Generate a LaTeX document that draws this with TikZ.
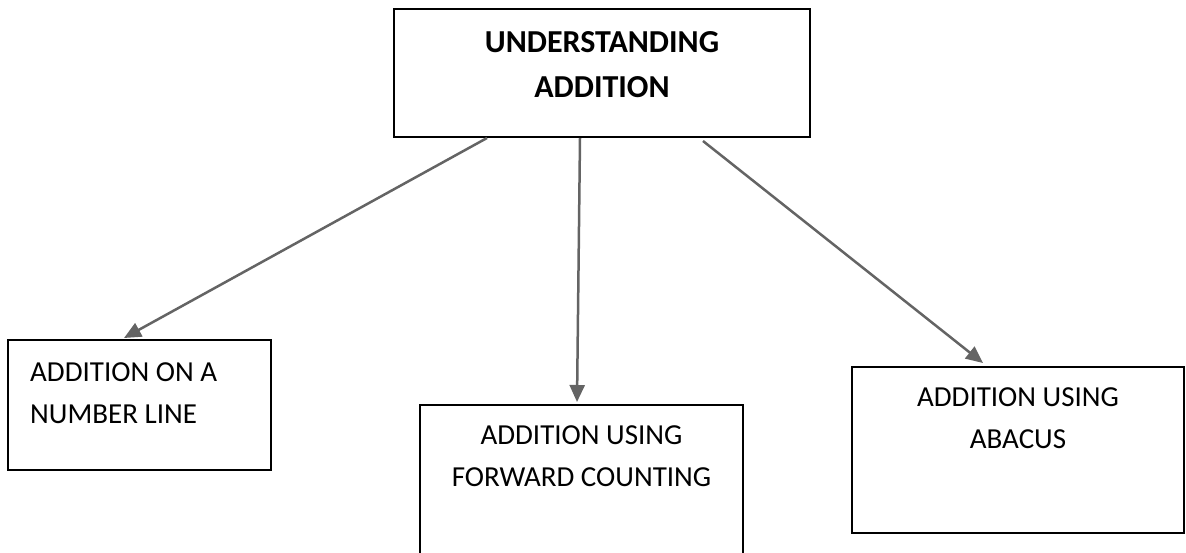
\documentclass[tikz,border=0pt]{standalone}
\usepackage{fontspec}
\setmainfont{Carlito}
\usetikzlibrary{arrows.meta}
\definecolor{arrowgray}{RGB}{100,100,100}
\tikzset{
  box/.style={draw=black, line width=2pt, rectangle, inner sep=0pt},
  txt/.style={inner sep=0pt, font=\fontsize{29}{42}\selectfont},
  toptxt/.style={inner sep=0pt, font=\fontsize{32}{45}\selectfont\bfseries, align=center},
  conn/.style={draw=arrowgray, line width=2.5pt, -{Triangle[length=17pt,width=15pt]}}
}
\begin{document}
\begin{tikzpicture}[x=1pt,y=-1pt]
\useasboundingbox (0,0) rectangle (1186,552);
\clip (0,0) rectangle (1186,552);
\node[box, minimum width=416pt, minimum height=128pt] (top) at (602,73) {};
\node[box, minimum width=263pt, minimum height=130pt] (left) at (139.5,405) {};
\node[box, minimum width=323pt, minimum height=175pt] (mid) at (581.5,492.5) {};
\node[box, minimum width=332pt, minimum height=166pt] (right) at (1018,450) {};
\node[toptxt, anchor=north] (toptext) at (602,31) {UNDERSTANDING\\ADDITION};
\node[txt, anchor=north west, align=left] (lefttext) at (30,362) {ADDITION ON A\\NUMBER LINE};
\node[txt, anchor=north, align=center] (midtext) at (581.5,425) {ADDITION USING\\FORWARD COUNTING};
\node[txt, anchor=north, align=center] (righttext) at (1018,387) {ADDITION USING\\ABACUS};
\draw[conn] ([xshift=-115pt]top.south) -- ([xshift=-15.5pt,yshift=1pt]left.north);
\draw[conn] ([xshift=-22pt]top.south) -- ([xshift=-4.5pt,yshift=2pt]mid.north);
\draw[conn] ([xshift=101pt,yshift=-3pt]top.south) -- ([xshift=-35pt,yshift=3pt]right.north);
\end{tikzpicture}
\end{document}
